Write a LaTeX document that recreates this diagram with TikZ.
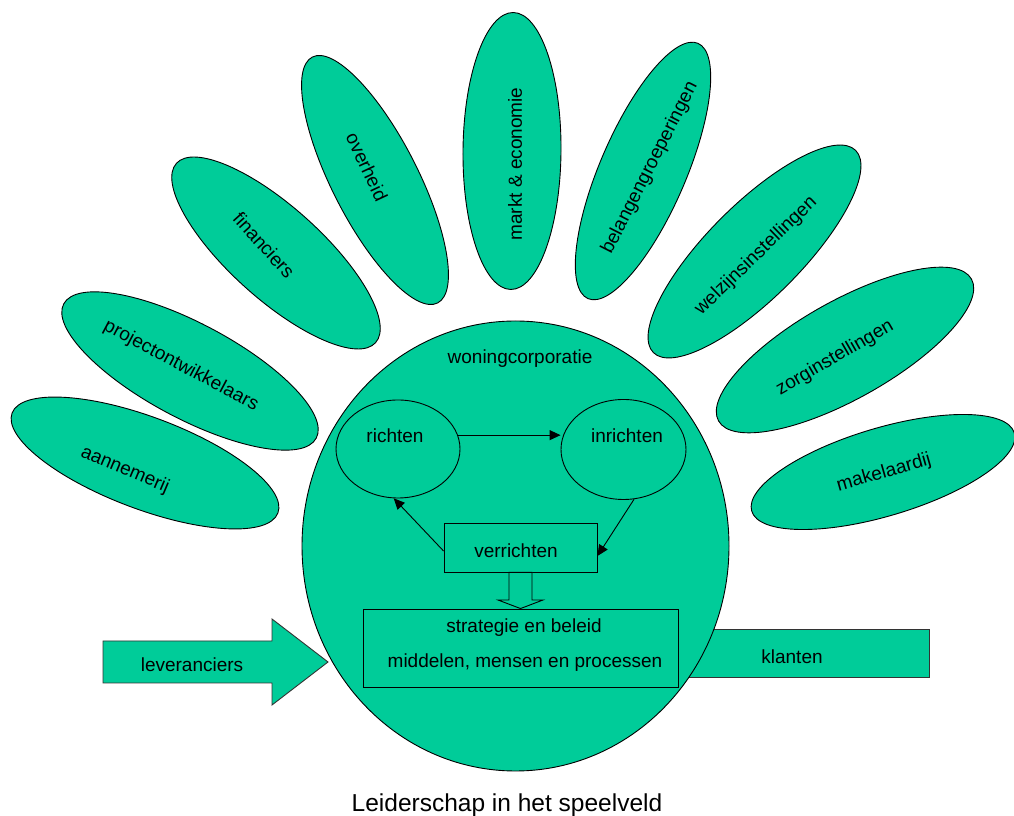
\documentclass[tikz,border=0pt]{standalone}
\usepackage{fontspec}
\setmainfont{Liberation Sans}
\usetikzlibrary{shapes.geometric,arrows.meta,calc}
\definecolor{leafgreen}{RGB}{0,204,153}
\begin{document}
\begin{tikzpicture}[x=1pt,y=1pt,
  petal/.style={ellipse,draw=black,fill=leafgreen,inner sep=0pt,line width=0.9pt},
  lbl/.style={inner sep=0pt,font=\fontsize{19}{22}\selectfont},
  box/.style={rectangle,draw=black,fill=leafgreen,inner sep=0pt,line width=0.9pt},
  flow/.style={line width=0.9pt,-{Triangle[length=11pt,width=10pt]}},
  blockarrow/.style={draw=black!80,fill=leafgreen,line width=0.9pt,line join=miter}]
\useasboundingbox (0,0) rectangle (1014,816);

% stakeholder petals around the corporation
\node[petal,minimum width=284pt,minimum height=92pt,rotate=-20.6] (p1) at (145,353) {};
\node[lbl,rotate=-23] (t1) at (125,346) {aannemerij};
\node[petal,minimum width=286pt,minimum height=95pt,rotate=-28] (p2) at (190,445) {};
\node[lbl,rotate=-28] (t2) at (181,450) {projectontwikkelaars};
\node[petal,minimum width=268pt,minimum height=92pt,rotate=-42] (p3) at (276,563) {};
\node[lbl,rotate=-48] (t3) at (264,571) {financiers};
\node[petal,minimum width=276pt,minimum height=86pt,rotate=-63] (p4) at (375,636) {};
\node[lbl,rotate=-65] (t4) at (367,649) {overheid};
\node[petal,minimum width=277pt,minimum height=98pt,rotate=89.5] (p5) at (512,665) {};
\node[lbl,rotate=90] (t5) at (515,652) {markt \& economie};
\node[petal,minimum width=278pt,minimum height=86pt,rotate=66.7] (p6) at (643,645) {};
\node[lbl,rotate=63] (t6) at (650,648) {belangengroeperingen};
\node[petal,minimum width=286pt,minimum height=94pt,rotate=45] (p7) at (754.5,564.5) {};
\node[lbl,rotate=44] (t7) at (756,560) {welzijnsinstellingen};
\node[petal,minimum width=290pt,minimum height=98pt,rotate=29.3] (p8) at (845,466) {};
\node[lbl,rotate=30] (t8) at (835,458) {zorginstellingen};
\node[petal,minimum width=274pt,minimum height=88pt,rotate=16.6] (p9) at (883,344) {};
\node[lbl,rotate=16] (t9) at (884,343) {makelaardij};

% customers and suppliers
\node[box,draw=black!80,minimum width=279pt,minimum height=48pt] (klanten) at (789.5,163) {};
\node[lbl] (klantenl) at (792,159) {klanten};
\coordinate (levtip) at (328,154);
\draw[blockarrow] (103,133) -- (272,133) -- (272,111) -- (levtip) -- (272,197) -- (272,175) -- (103,175) -- cycle;
\node[lbl] (levl) at (192,151) {leveranciers};

% the corporation itself
\node[petal,minimum width=427pt,minimum height=450pt] (corp) at (515.5,270) {};
\node[lbl] (corpl) at (520,457) {woningcorporatie};

\node[petal,minimum width=124pt,minimum height=98pt] (richten) at (398,367) {};
\node[lbl] (richtenl) at (395,380) {richten};
\node[petal,minimum width=125pt,minimum height=100pt] (inrichten) at (623.5,366.5) {};
\node[lbl] (inrichtenl) at (627,380) {inrichten};
\node[box,minimum width=153pt,minimum height=49pt] (verrichten) at (520.5,268.5) {};
\node[lbl] (verrichtenl) at (516,265) {verrichten};
\node[box,minimum width=315pt,minimum height=78pt] (strategie) at (520.5,168) {};
\node[lbl] (strat1) at (524,188) {strategie en beleid};
\node[lbl] (strat2) at (525,153) {middelen, mensen en processen};

% the cycle richten -> inrichten -> verrichten -> richten
\draw[flow] (richten.13) -- (richten.13 -| inrichten.west);
\draw[flow] (inrichten.-78) -- ($(verrichten.east)+(0,-8.5)$);
\draw[flow] ($(verrichten.west)+(0,-3.5)$) -- (richten.265);

% hollow arrow down to strategy
\draw[box] (verrichten.south -| 509,0) -- (509,216) -- (498,216) -- (strategie.north -| 520.5,0) -- (543,216) -- (532,216) -- (verrichten.south -| 532,0) -- cycle;

% caption
\node[inner sep=0pt,anchor=base,font=\fontsize{24.5}{28}\selectfont] (title) at (507,4) {Leiderschap in het speelveld};
\end{tikzpicture}
\end{document}
